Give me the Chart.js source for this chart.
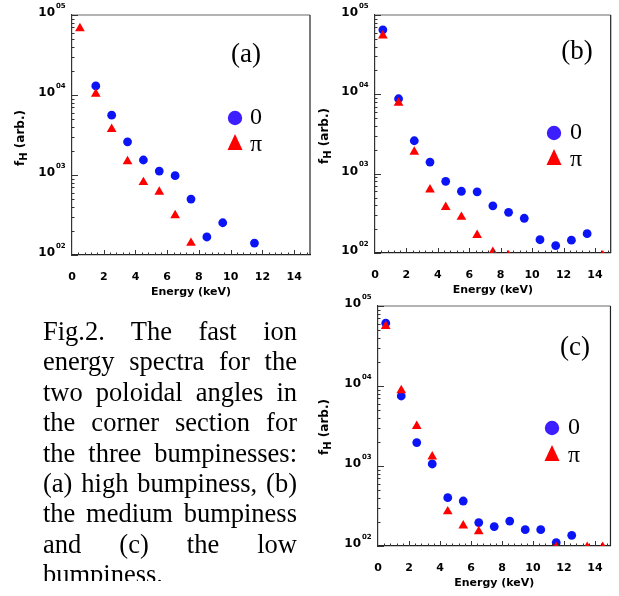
<!DOCTYPE html>
<html>
<head>
<meta charset="utf-8">
<script src="https://cdn.jsdelivr.net/npm/chart.js@4.4.0/dist/chart.umd.min.js"></script>
<style>
  body { margin: 0; background: #fff; }
  #wrap { position: relative; width: 619px; height: 596px; overflow: hidden; background: #fff; }
  #wrap canvas { position: absolute; left: 0; top: 0; }
  #caption {
    position: absolute; left: 43px; top: 316px; width: 254px; height: 265px; overflow: hidden;
    font-family: "Liberation Serif", "Times New Roman", serif; font-size: 26.5px; line-height: 30.4px; color: #000;
  }
  #caption div { text-align: justify; text-align-last: justify; white-space: normal; }
  #caption div.last { text-align-last: left; }
</style>
</head>
<body>
<div id="wrap">
  <canvas id="chartA" width="619" height="596"></canvas>
  <canvas id="chartB" width="619" height="596"></canvas>
  <canvas id="chartC" width="619" height="596"></canvas>
  <div id="caption">
    <div>Fig.2. The fast ion</div>
    <div>energy spectra for the</div>
    <div>two poloidal angles in</div>
    <div>the corner section for</div>
    <div>the three bumpinesses:</div>
    <div>(a) high bumpiness, (b)</div>
    <div>the medium bumpiness</div>
    <div>and (c) the low</div>
    <div class="last">bumpiness.</div>
  </div>
</div>
<script>
// energy bins (keV)
var energy = [0.5, 1.5, 2.5, 3.5, 4.5, 5.5, 6.5, 7.5, 8.5, 9.5, 10.5, 11.5, 12.5, 13.5, 14.5];

// (a) high bumpiness
var aZero = [null, 13000, 5600, 2600, 1540, 1120, 980, 500, 168, 253, null, 141, null, null, null];
var aPi   = [68000, 10300, 3750, 1480, 810, 615, 312, 141, null, null, null, null, null, null, null];

// (b) medium bumpiness
var bZero = [65000, 8800, 2600, 1400, 800, 600, 590, 393, 326, 274, 147, 124, 145, 175, null];
var bPi   = [55000, 7800, 1880, 630, 378, 284, 168, 103, 93, null, null, null, null, null, 93];

// (c) low bumpiness
var cZero = [61000, 7500, 1960, 1060, 402, 365, 196, 175, 205, 160, 160, 110, 136, null, null];
var cPi   = [56000, 8800, 3150, 1310, 270, 180, 152, null, null, null, null, 97, null, 97, 97];

var xTickLabels = [0, 2, 4, 6, 8, 10, 12, 14];
var decades = [2, 3, 4, 5];
var seriesNames = ['0', '\u03c0'];

var blue = '#0a14f5';
var red = '#ff0000';
var sans = 'DejaVu Sans';
var serif = 'Liberation Serif';

function toPoints(vals) {
  var pts = [];
  for (var i = 0; i < energy.length; i++) {
    if (vals[i] !== null) pts.push({ x: energy[i], y: vals[i] });
  }
  return pts;
}

// frame, inward ticks, 10^n labels, y title, panel tag and legend
var decorPlugin = {
  id: 'decor',
  afterDraw: function (chart) {
    var p = chart.options.plugins.decor;
    var ctx = chart.ctx, a = chart.chartArea;
    var xs = chart.scales.x, ys = chart.scales.y;
    ctx.save();

    // top (gray) and right (dark) frame
    ctx.lineWidth = 1.5;
    ctx.strokeStyle = '#9a9a9a';
    ctx.beginPath(); ctx.moveTo(a.left, a.top); ctx.lineTo(a.right, a.top); ctx.stroke();
    ctx.lineWidth = 1.2;
    ctx.strokeStyle = '#222';
    ctx.beginPath(); ctx.moveTo(a.right, a.top); ctx.lineTo(a.right, a.bottom); ctx.stroke();

    // y ticks (log minor + major), pointing inward
    ctx.strokeStyle = '#333';
    ctx.lineWidth = 1;
    for (var d = 2; d <= 5; d++) {
      for (var m = 1; m <= 9; m++) {
        if (d === 5 && m > 1) break;
        var y = Math.round(ys.getPixelForValue(m * Math.pow(10, d))) + 0.5;
        var len = m === 1 ? 6 : 2.5;
        ctx.beginPath(); ctx.moveTo(a.left, y); ctx.lineTo(a.left + len, y); ctx.stroke();
      }
    }
    // x ticks every 0.4, longer every 2
    for (var k = 1; k <= 37; k++) {
      var x = Math.round(xs.getPixelForValue(k * 0.4)) + 0.5;
      var l2 = k % 5 === 0 ? 5 : 2.5;
      ctx.beginPath(); ctx.moveTo(x, a.bottom); ctx.lineTo(x, a.bottom - l2); ctx.stroke();
    }

    // 10^n labels
    ctx.fillStyle = '#000';
    decades.forEach(function (n) {
      var ty = ys.getPixelForValue(Math.pow(10, n));
      ctx.font = 'bold 12px "' + sans + '"';
      ctx.textAlign = 'right';
      ctx.textBaseline = 'middle';
      ctx.fillText('10', a.left - 17, ty - 2);
      ctx.font = 'bold 7px "' + sans + '"';
      ctx.textAlign = 'left';
      ctx.fillText('0' + n, a.left - 16, ty - 9);
    });

    // y title: f_H (arb.)
    ctx.translate(p.yTitle[0], p.yTitle[1]);
    ctx.rotate(-Math.PI / 2);
    ctx.textBaseline = 'middle';
    ctx.textAlign = 'left';
    var f1 = 'bold 12px "' + sans + '"', f2 = 'bold 10px "' + sans + '"';
    ctx.font = f1; var wF = ctx.measureText('f').width;
    ctx.font = f2; var wH = ctx.measureText('H').width;
    ctx.font = f1; var wR = ctx.measureText(' (arb.)').width;
    var sx = -(wF + wH + wR) / 2;
    ctx.font = f1; ctx.fillText('f', sx, 0);
    ctx.font = f2; ctx.fillText('H', sx + wF, 3);
    ctx.font = f1; ctx.fillText(' (arb.)', sx + wF + wH, 0);
    ctx.setTransform(1, 0, 0, 1, 0, 0);

    // panel tag
    ctx.font = '27px "' + serif + '"';
    ctx.textAlign = 'center';
    ctx.textBaseline = 'middle';
    ctx.fillText(p.tag, p.tagPos[0], p.tagPos[1]);

    // legend
    var lc = p.legCircle, lt = p.legTri;
    ctx.fillStyle = '#3c1eff';
    ctx.beginPath(); ctx.arc(lc[0], lc[1], 7.2, 0, Math.PI * 2); ctx.fill();
    ctx.fillStyle = red;
    ctx.beginPath();
    ctx.moveTo(lt[0], lt[1] - 9);
    ctx.lineTo(lt[0] + 7.5, lt[1] + 7);
    ctx.lineTo(lt[0] - 7.5, lt[1] + 7);
    ctx.closePath(); ctx.fill();
    ctx.fillStyle = '#000';
    ctx.font = '24px "' + serif + '"';
    ctx.textAlign = 'left';
    ctx.fillText(seriesNames[0], p.legText, lc[1]);
    ctx.fillText(seriesNames[1], p.legText, lt[1] + 2);

    ctx.restore();
  }
};

function makePanel(id, area, zero, pi, decor) {
  var yW = 30, xH = 45;
  return new Chart(id, {
    type: 'scatter',
    data: {
      datasets: [
        { label: seriesNames[0], data: toPoints(zero), pointStyle: 'circle', pointRadius: 4.4,
          backgroundColor: blue, borderWidth: 0, clip: 0, order: 1 },
        { label: seriesNames[1], data: toPoints(pi), pointStyle: 'triangle', pointRadius: 5.6,
          backgroundColor: red, borderWidth: 0, clip: 0, order: 0 }
      ]
    },
    options: {
      responsive: false,
      animation: false,
      events: [],
      layout: {
        padding: { left: area.l - yW, top: area.t, right: 619 - area.r, bottom: 596 - area.b - xH }
      },
      plugins: {
        legend: { display: false },
        tooltip: { enabled: false },
        decor: decor
      },
      scales: {
        x: {
          type: 'linear', min: 0, max: 15,
          afterFit: function (s) { s.height = xH; },
          grid: { display: false, drawTicks: false },
          border: { display: true, color: '#222', width: 1.2 },
          ticks: {
            stepSize: 2, includeBounds: false, autoSkip: false, maxRotation: 0, padding: 16, color: '#000',
            font: { family: sans, weight: 'bold', size: 11 },
            callback: function (v) { return xTickLabels.indexOf(v) >= 0 ? String(v) : ''; }
          },
          title: {
            display: true, text: 'Energy (keV)', color: '#000',
            font: { family: sans, weight: 'bold', size: 11 },
            padding: { top: 0, bottom: 1 }
          }
        },
        y: {
          type: 'logarithmic', min: 100, max: 100000,
          afterFit: function (s) { s.width = yW; },
          grid: { display: false, drawTicks: false },
          border: { display: true, color: '#333', width: 1.2 },
          ticks: { display: false }
        }
      }
    },
    plugins: [decorPlugin]
  });
}

makePanel('chartA', { l: 72, t: 15, r: 310, b: 255 }, aZero, aPi, {
  tag: '(a)', tagPos: [246, 55], yTitle: [21, 138],
  legCircle: [235, 118], legTri: [235, 143], legText: 250
});
makePanel('chartB', { l: 375, t: 15, r: 615, b: 253 }, bZero, bPi, {
  tag: '(b)', tagPos: [577, 52], yTitle: [325, 136],
  legCircle: [554, 133], legTri: [554, 158], legText: 570
});
makePanel('chartC', { l: 378, t: 306, r: 616, b: 546 }, cZero, cPi, {
  tag: '(c)', tagPos: [575, 348], yTitle: [325, 427],
  legCircle: [552, 428], legTri: [552, 454], legText: 568
});
</script>
</body>
</html>
